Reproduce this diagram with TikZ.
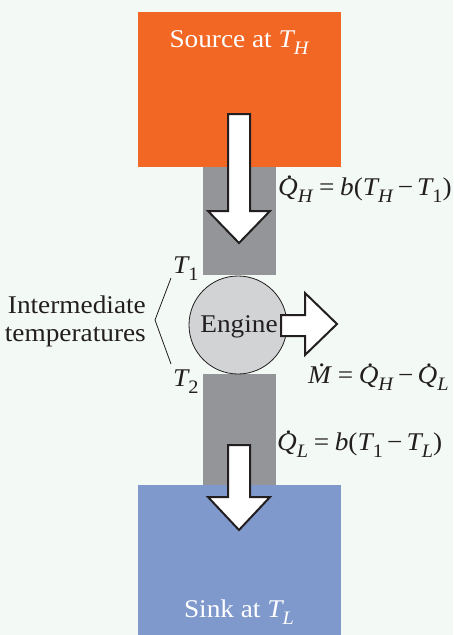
\documentclass[tikz,border=0pt]{standalone}
\usepackage{fontspec}
\setmainfont{Liberation Serif}[FakeStretch=1.07]
\definecolor{bgc}{HTML}{F3F9F5}
\definecolor{srcc}{HTML}{F36724}
\definecolor{sinkc}{HTML}{7F99CC}
\definecolor{barc}{HTML}{939598}
\definecolor{engc}{HTML}{D1D3D4}
\definecolor{inkc}{HTML}{231F20}
\newcommand\sbx[1]{\raisebox{-0.28em}{\fontsize{19}{19}\selectfont #1}}
\newcommand\Tv[1]{\textit{T}\kern-0.06em\sbx{#1}}
\newcommand\dotacc[1]{\leavevmode\setbox0=\hbox{#1}\hbox to \wd0{\hss\kern0.12em\raisebox{0.66em}{.}\hss}\kern-\wd0\box0}
\newcommand\Qd[1]{\dotacc{\textit{Q}}\sbx{\textit{#1}}}
\newcommand\eqs{\kern0.22em=\kern0.22em}
\newcommand\mis{\kern0.16em−\kern0.16em}
\begin{document}
\begin{tikzpicture}[x=1pt,y=-1pt,
  txt/.style={inner sep=0pt, text=inkc, font=\fontsize{25.5}{28}\selectfont},
  wtxt/.style={inner sep=0pt, text=white, font=\fontsize{25.5}{28}\selectfont},
  blockarrow/.style={fill=white, draw=inkc, line width=2pt, line join=miter},
  plainbox/.style={rectangle, inner sep=0pt, draw=none, anchor=north west}]
\fill[bgc] (0,0) rectangle (453,635);
\useasboundingbox (0,0) rectangle (453,635);
% reservoirs and bars
\node[plainbox, fill=srcc, minimum width=203pt, minimum height=155pt] (src) at (138,12) {};
\node[plainbox, fill=barc, minimum width=73pt, minimum height=108pt] (barup) at (203,167) {};
\node[plainbox, fill=barc, minimum width=73pt, minimum height=111pt] (bardn) at (203,374) {};
\node[plainbox, fill=sinkc, minimum width=203pt, minimum height=150pt] (sink) at (138,485) {};
% engine
\node[circle, draw=inkc, line width=0.8pt, fill=engc, minimum size=98pt, inner sep=0pt] (eng) at (238,325) {};
\node[txt, anchor=base] (englab) at (239,332) {Engine};
% arrows
\draw[blockarrow] (228,114) -- (250,114) -- (250,211) -- (270,211) -- (239,243) -- (208,211) -- (228,211) -- cycle;
\draw[blockarrow] (228,445) -- (250,445) -- (250,497) -- (270,497) -- (239,530) -- (208,497) -- (228,497) -- cycle;
\draw[blockarrow] (281,315) -- (305,315) -- (305,293) -- (337,324) -- (305,355) -- (305,336) -- (281,336) -- cycle;
% texts
\node[wtxt, anchor=base] (srclab) at (239.5,47) {Source at \Tv{\textit{H}}};
\node[wtxt, anchor=base] (sinklab) at (239,617) {Sink at \Tv{\textit{L}}};
\node[txt, anchor=base west] (t1) at (173,273) {\Tv{1}};
\node[txt, anchor=base west] (t2) at (173,386) {\Tv{2}};
\node[txt, anchor=east, align=right] (inter) at (146,321) {Intermediate\\temperatures};
\draw[inkc, line width=0.8pt] (171,278) -- (155,320) -- (171,364);
\node[txt, anchor=base west] (qh) at (278,195) {\Qd{H}\eqs\textit{b}(\Tv{\textit{H}}\mis\Tv{1})};
\node[txt, anchor=base west] (wm) at (308,383) {\dotacc{\textit{M}}\eqs\Qd{H}\mis\Qd{L}};
\node[txt, anchor=base west] (ql) at (277,450) {\Qd{L}\eqs\textit{b}(\Tv{1}\mis\Tv{\textit{L}})};
\end{tikzpicture}
\end{document}
